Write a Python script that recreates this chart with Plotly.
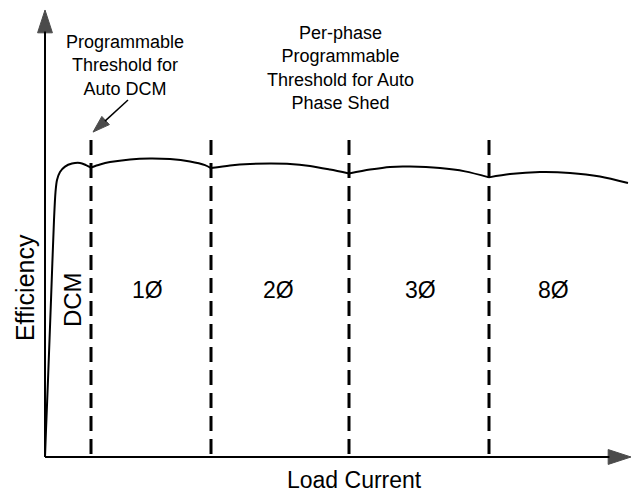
import plotly.graph_objects as go

# ---- data (arbitrary units: load current, efficiency %) ----
seg_dcm_x = [0.0, 0.1, 0.3, 0.6, 0.9, 1.05, 1.2, 1.5, 2.0, 2.7, 3.5, 4.1, 4.6]
seg_dcm_y = [0.0, 9.0, 25.7, 52.3, 79.0, 88.3, 92.3, 95.0, 96.8, 97.8, 98.0, 97.3, 96.5]
seg_1_x = [4.6, 5.5, 6.5, 8.5, 10.5, 12.5, 14.5, 16.0, 16.6]
seg_1_y = [96.5, 97.5, 98.3, 99.2, 99.5, 99.3, 98.5, 97.3, 96.3]
seg_2_x = [16.6, 18.5, 20.5, 22.5, 24.5, 26.5, 28.5, 30.4]
seg_2_y = [96.3, 97.2, 97.7, 97.8, 97.7, 97.0, 95.8, 94.5]
seg_3_x = [30.4, 32.5, 34.5, 36.5, 39.5, 42.0, 44.4]
seg_3_y = [94.5, 95.8, 96.7, 96.8, 96.3, 95.2, 93.2]
seg_8_x = [44.4, 46.5, 49.5, 52.5, 55.5, 58.3]
seg_8_y = [93.2, 94.3, 95.0, 94.7, 93.5, 91.3]

thresholds = [4.6, 16.6, 30.4, 44.4]
threshold_top = 105.7

region_labels = ["1Ø", "2Ø", "3Ø", "8Ø"]
region_x = [10.2, 23.3, 37.5, 50.8]
region_y = 55.7

x_axis_end = 58.6
y_axis_end = 149.0

FONT = "Liberation Sans, Arial, sans-serif"

fig = go.Figure()

# efficiency curve (one spline per operating region)
for sx, sy in [(seg_dcm_x, seg_dcm_y), (seg_1_x, seg_1_y), (seg_2_x, seg_2_y),
               (seg_3_x, seg_3_y), (seg_8_x, seg_8_y)]:
    fig.add_trace(go.Scatter(x=sx, y=sy, mode="lines",
                             line=dict(color="black", width=2, shape="spline", smoothing=0.8),
                             hoverinfo="skip"))

# phase-shed thresholds
for t in thresholds:
    fig.add_trace(go.Scatter(x=[t, t], y=[threshold_top, 0], mode="lines",
                             line=dict(color="black", width=3, dash="15px,8px"),
                             hoverinfo="skip"))

arrow_marker = lambda s: dict(symbol="arrow", angleref="previous", size=[0, s], color="black",
                              line=dict(color="black", width=1))

# axes with arrowheads
fig.add_trace(go.Scatter(x=[0, x_axis_end], y=[0, 0], mode="lines+markers",
                         line=dict(color="black", width=2), marker=arrow_marker(24),
                         hoverinfo="skip"))
fig.add_trace(go.Scatter(x=[0, 0], y=[0, y_axis_end], mode="lines+markers",
                         line=dict(color="black", width=2), marker=arrow_marker(24),
                         hoverinfo="skip"))

# pointer to DCM threshold
fig.add_trace(go.Scatter(x=[8.3, 4.8], y=[119.0, 108.3], mode="lines+markers",
                         line=dict(color="black", width=1.5), marker=arrow_marker(18),
                         hoverinfo="skip"))

ann = []
ann.append(dict(x=8.0, y=130.5, text="Programmable<br>Threshold for<br>Auto DCM",
                font=dict(size=18, family=FONT, color="black")))
ann.append(dict(x=29.5, y=129.8, text="Per-phase<br>Programmable<br>Threshold for Auto<br>Phase Shed",
                font=dict(size=18, family=FONT, color="black")))
ann.append(dict(x=-2.0, y=56.3, text="Efficiency", textangle=-90,
                font=dict(size=25, family=FONT, color="black")))
ann.append(dict(x=2.7, y=52.3, text="DCM", textangle=-90,
                font=dict(size=24, family=FONT, color="black")))
for lab, lx in zip(region_labels, region_x):
    ann.append(dict(x=lx, y=region_y, text=lab, font=dict(size=23, family=FONT, color="black")))
ann.append(dict(x=30.9, y=-7.7, text="Load Current",
                font=dict(size=23, family=FONT, color="black")))
for a in ann:
    a.update(xref="x", yref="y", showarrow=False, xanchor="center", yanchor="middle")

fig.update_layout(
    width=632, height=492,
    margin=dict(l=0, r=0, t=0, b=0),
    paper_bgcolor="white", plot_bgcolor="white",
    showlegend=False,
    xaxis=dict(range=[-4.5, 58.7], visible=False, fixedrange=True),
    yaxis=dict(range=[-11.67, 152.33], visible=False, fixedrange=True),
    annotations=ann,
)

fig.write_html("out.html", config={"displayModeBar": False},
               post_script="document.body.style.margin='0';document.body.style.overflow='hidden';")
